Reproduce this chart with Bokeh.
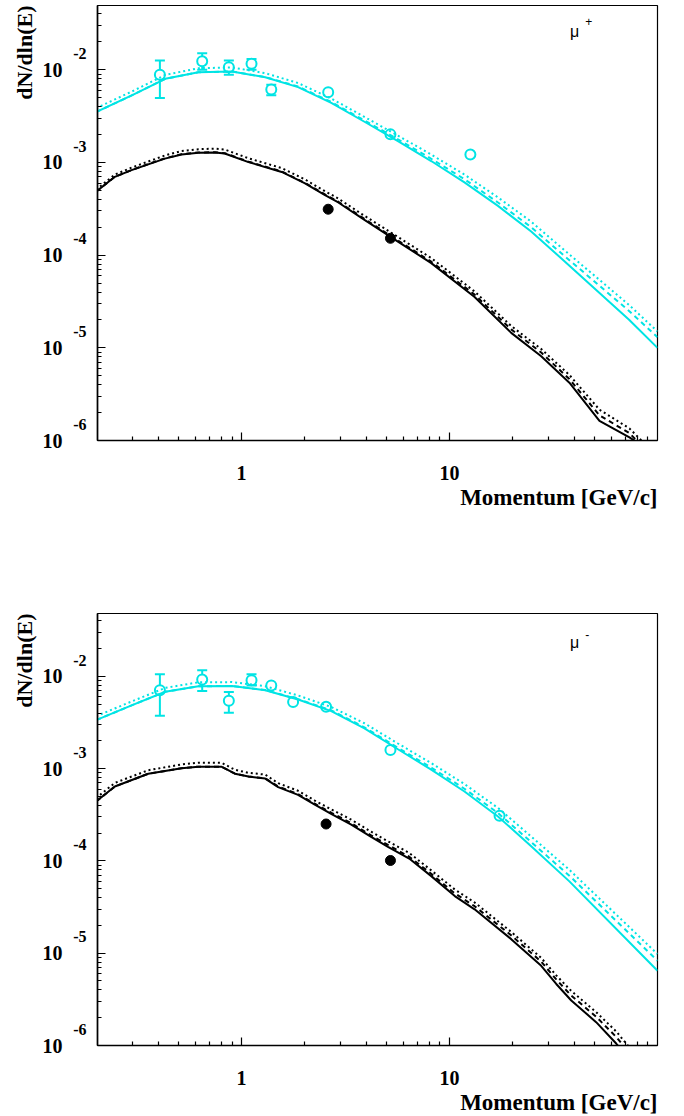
import math
from bokeh.plotting import figure
from bokeh.models import (ColumnDataSource, FixedTicker, CustomJSTickFormatter, LogAxis, LogScale,
                          Label, Whisker, TeeHead, Range1d, Title)
from bokeh.layouts import column
from bokeh.embed import file_html
from bokeh.resources import INLINE

CYAN = "#00e4e4"
SERIF = "Liberation Serif"
SANS = "Liberation Sans"

# ---------------- panel 1 : mu+ ----------------
mup_cyan_pts_x = [0.405, 0.647, 0.869, 1.117, 1.39, 2.61, 5.20, 12.6]
mup_cyan_pts_y = [8.84e-3, 1.236e-2, 1.066e-2, 1.16e-2, 6.14e-3, 5.74e-3, 2.01e-3, 1.22e-3]
mup_cyan_pts_lo = [4.96e-3, 1.0e-2, 8.84e-3, 1.0e-2, 5.3e-3, None, None, None]
mup_cyan_pts_hi = [1.26e-2, 1.51e-2, 1.26e-2, 1.31e-2, 6.9e-3, None, None, None]
mup_black_pts_x = [2.61, 5.20]
mup_black_pts_y = [3.13e-4, 1.52e-4]

mup_cyan_x = [0.2, 0.3, 0.43, 0.62, 0.9, 1.3, 1.87, 2.7, 3.9, 5.65, 8.2, 11.8, 17.1, 24.7, 35.7, 73, 100]
mup_cyan_solid = [3.5e-3, 5.35e-3, 8.0e-3, 9.4e-3, 9.6e-3, 8.3e-3, 6.5e-3, 4.4e-3, 2.75e-3, 1.70e-3,
                  1.03e-3, 6.1e-4, 3.4e-4, 1.8e-4, 8.6e-5, 2.01e-5, 1.0e-5]
mup_cyan_dashed = [3.5e-3, 5.35e-3, 8.0e-3, 9.4e-3, 9.6e-3, 8.35e-3, 6.6e-3, 4.5e-3, 2.84e-3, 1.78e-3,
                   1.09e-3, 6.6e-4, 3.7e-4, 2.0e-4, 9.8e-5, 2.5e-5, 1.3e-5]
mup_cyan_dotted = [3.85e-3, 5.9e-3, 8.8e-3, 1.04e-2, 1.06e-2, 9.2e-3, 7.2e-3, 4.9e-3, 3.1e-3, 1.95e-3,
                   1.21e-3, 7.4e-4, 4.2e-4, 2.3e-4, 1.13e-4, 2.9e-5, 1.5e-5]

mup_black_x = [0.2, 0.246, 0.296, 0.428, 0.515, 0.62, 0.745, 0.83, 1.08, 1.56, 2.02, 2.52, 2.92,
               3.9, 5.65, 8.17, 13.2, 19.8, 27.6, 37.7, 52.6, 73.3, 90]
mup_black_solid = [4.85e-4, 7.0e-4, 8.26e-4, 1.10e-3, 1.22e-3, 1.27e-3, 1.28e-3, 1.25e-3, 1.01e-3,
                   7.9e-4, 5.94e-4, 4.45e-4, 3.7e-4, 2.40e-4, 1.40e-4, 8.2e-5, 3.53e-5, 1.45e-5,
                   8.1e-6, 4.2e-6, 1.63e-6, 1.08e-6, 8.0e-7]
mup_black_dashed = [4.85e-4, 7.0e-4, 8.3e-4, 1.11e-3, 1.23e-3, 1.28e-3, 1.29e-3, 1.26e-3, 1.02e-3,
                    8.0e-4, 6.0e-4, 4.52e-4, 3.77e-4, 2.46e-4, 1.44e-4, 8.5e-5, 3.75e-5, 1.58e-5,
                    8.9e-6, 4.6e-6, 1.87e-6, 1.2e-6, 7.5e-7]
mup_black_dotted = [5.1e-4, 7.4e-4, 8.8e-4, 1.19e-3, 1.33e-3, 1.39e-3, 1.41e-3, 1.38e-3, 1.11e-3,
                    8.7e-4, 6.55e-4, 4.9e-4, 4.08e-4, 2.66e-4, 1.57e-4, 9.3e-5, 4.06e-5, 1.72e-5,
                    9.7e-6, 5.1e-6, 2.15e-6, 1.35e-6, 8.5e-7]

# ---------------- panel 2 : mu- ----------------
mum_cyan_pts_x = [0.405, 0.647, 0.869, 1.117, 1.39, 1.77, 2.55, 5.20, 17.4]
mum_cyan_pts_y = [7.06e-3, 9.21e-3, 5.42e-3, 9.06e-3, 7.94e-3, 5.28e-3, 4.67e-3, 1.59e-3, 3.09e-4]
mum_cyan_pts_lo = [3.73e-3, 6.94e-3, 4.02e-3, 7.94e-3, None, None, None, None, None]
mum_cyan_pts_hi = [1.05e-2, 1.16e-2, 6.77e-3, 1.05e-2, None, None, None, None, None]
mum_black_pts_x = [2.55, 5.20]
mum_black_pts_y = [2.51e-4, 1.01e-4]

mum_cyan_x = [0.2, 0.3, 0.43, 0.62, 0.9, 1.3, 1.87, 2.7, 3.9, 5.65, 8.2, 11.8, 17.1, 24.7, 37.7, 100]
mum_cyan_solid = [3.35e-3, 4.9e-3, 6.8e-3, 7.8e-3, 7.86e-3, 7.06e-3, 5.6e-3, 4.2e-3, 2.73e-3, 1.62e-3,
                  9.7e-4, 5.65e-4, 3.03e-4, 1.44e-4, 6.0e-5, 6.46e-6]
mum_cyan_dashed = [3.35e-3, 4.9e-3, 6.8e-3, 7.8e-3, 7.86e-3, 7.1e-3, 5.65e-3, 4.28e-3, 2.8e-3, 1.68e-3,
                   1.02e-3, 6.05e-4, 3.3e-4, 1.6e-4, 6.9e-5, 8.3e-6]
mum_cyan_dotted = [3.7e-3, 5.4e-3, 7.5e-3, 8.6e-3, 8.65e-3, 7.8e-3, 6.2e-3, 4.65e-3, 3.1e-3, 1.87e-3,
                   1.14e-3, 6.8e-4, 3.75e-4, 1.84e-4, 8.0e-5, 9.8e-6]

mum_black_x = [0.2, 0.246, 0.356, 0.515, 0.62, 0.8, 0.93, 1.08, 1.3, 1.5, 1.87, 2.25, 2.71, 3.37,
               4.2, 5.06, 6.4, 8.17, 10.6, 13.2, 19.8, 27.6, 32.6, 38.5, 50.7, 63.3, 80]
mum_black_solid = [4.4e-4, 6.4e-4, 8.8e-4, 1.01e-3, 1.05e-3, 1.05e-3, 8.8e-4, 8.2e-4, 7.8e-4, 6.3e-4,
                   5.2e-4, 4.06e-4, 3.22e-4, 2.47e-4, 1.82e-4, 1.42e-4, 1.06e-4, 6.84e-5, 4.16e-5,
                   2.99e-5, 1.42e-5, 7.3e-6, 4.64e-6, 3.07e-6, 1.79e-6, 1.05e-6, 5.5e-7]
mum_black_dashed = [4.4e-4, 6.4e-4, 8.8e-4, 1.01e-3, 1.05e-3, 1.05e-3, 8.8e-4, 8.2e-4, 7.85e-4, 6.4e-4,
                    5.3e-4, 4.16e-4, 3.32e-4, 2.56e-4, 1.89e-4, 1.49e-4, 1.11e-4, 7.25e-5, 4.45e-5,
                    3.23e-5, 1.56e-5, 8.1e-6, 5.2e-6, 3.47e-6, 2.05e-6, 1.24e-6, 6.5e-7]
mum_black_dotted = [4.8e-4, 7.0e-4, 9.6e-4, 1.11e-3, 1.16e-3, 1.16e-3, 9.7e-4, 9.0e-4, 8.6e-4, 6.95e-4,
                    5.75e-4, 4.5e-4, 3.6e-4, 2.8e-4, 2.07e-4, 1.63e-4, 1.22e-4, 7.9e-5, 4.9e-5,
                    3.55e-5, 1.7e-5, 8.9e-6, 5.75e-6, 3.9e-6, 2.3e-6, 1.42e-6, 7.5e-7]

# axis ticks / labels
x_major = [1, 10]
x_minor = [0.3, 0.4, 0.5, 0.6, 0.7, 0.8, 0.9, 2, 3, 4, 5, 6, 7, 8, 9,
           20, 30, 40, 50, 60, 70, 80, 90]
y_major = [1e-6, 1e-5, 1e-4, 1e-3, 1e-2]
y_minor = [m * 10.0 ** k for k in range(-6, -1) for m in range(2, 10)]
x_title = "Momentum [GeV/c]"
y_title = "dN/dln(E)"

X_START, X_END = 0.203, 100.0
EXP_SHIFT = 1.5          # raises the exponent labels by ~16 px (log shift of the helper range)


def style_labels(ax, size):
    ax.major_label_text_font = SERIF
    ax.major_label_text_font_style = "bold"
    ax.major_label_text_font_size = size
    ax.major_label_text_color = "black"


def make_panel(height, border_top, border_bottom, y_top, particle, sign, sign_dy, mu_dy,
               cyan_x, cyan_solid, cyan_dashed, cyan_dotted,
               black_x, black_solid, black_dashed, black_dotted,
               pts_x, pts_y, pts_lo, pts_hi, bpts_x, bpts_y):
    p = figure(width=680, height=height, x_axis_type="log", y_axis_type="log",
               x_range=Range1d(X_START, X_END), y_range=Range1d(1e-6, y_top),
               output_backend="svg", toolbar_location=None,
               min_border_left=97, min_border_right=23,
               min_border_top=border_top, min_border_bottom=border_bottom)
    p.xgrid.visible = False
    p.ygrid.visible = False
    p.outline_line_color = "black"
    p.outline_line_width = 1.2
    p.background_fill_color = "white"
    p.border_fill_color = "white"

    for ax in (p.xaxis[0], p.yaxis[0]):
        ax.axis_line_color = "black"
        ax.axis_line_width = 1.6
        ax.major_tick_in = 8
        ax.major_tick_out = 0
        ax.minor_tick_in = 4
        ax.minor_tick_out = 0
        ax.major_tick_line_width = 1.2
        ax.minor_tick_line_width = 1.2
        style_labels(ax, "20px")
    p.xaxis.ticker = FixedTicker(ticks=x_major, minor_ticks=x_minor)
    p.yaxis.ticker = FixedTicker(ticks=y_major, minor_ticks=y_minor)
    p.xaxis.formatter = CustomJSTickFormatter(code="return String(Math.round(tick));")
    p.xaxis.major_label_standoff = 25

    # inner y axis: ticks only
    p.yaxis.formatter = CustomJSTickFormatter(code="return '';")
    p.yaxis.major_label_standoff = 0

    # exponent axis on a helper range shifted upward
    p.extra_y_ranges = {"exp": Range1d(1e-6 / EXP_SHIFT, y_top / EXP_SHIFT)}
    p.extra_y_scales = {"exp": LogScale()}
    exp_ax = LogAxis(y_range_name="exp", ticker=FixedTicker(ticks=y_major, minor_ticks=[]),
                     formatter=CustomJSTickFormatter(code="return '-' + Math.round(-Math.log10(tick));"),
                     axis_line_color=None, major_tick_line_color=None, minor_tick_line_color=None,
                     major_label_standoff=5)
    style_labels(exp_ax, "16px")
    p.add_layout(exp_ax, "left")

    # mantissa axis "10"
    ten_ax = LogAxis(ticker=FixedTicker(ticks=y_major, minor_ticks=[]),
                     formatter=CustomJSTickFormatter(code="return '10';"),
                     axis_line_color=None, major_tick_line_color=None, minor_tick_line_color=None,
                     major_label_standoff=2)
    style_labels(ten_ax, "20px")
    p.add_layout(ten_ax, "left")

    # axis titles, aligned at the end of the axes
    p.add_layout(Title(text=x_title, align="right", text_font=SERIF, text_font_style="bold",
                       text_font_size="23px", text_color="black", standoff=0), "below")
    p.add_layout(Title(text=y_title, align="right", text_font=SERIF, text_font_style="bold",
                       text_font_size="22px", text_color="black", standoff=6), "left")

    # particle label
    p.add_layout(Label(x=38.0, y=y_top, y_offset=mu_dy, text=particle, text_align="left",
                       text_baseline="alphabetic", text_font=SANS, text_font_size="16px",
                       text_color="black"))
    p.add_layout(Label(x=45.0, y=y_top, y_offset=sign_dy, text=sign, text_align="left",
                       text_baseline="alphabetic", text_font=SANS, text_font_size="12px",
                       text_color="black"))

    # error bars
    ex = [x for x, lo in zip(pts_x, pts_lo) if lo is not None]
    elo = [lo for lo in pts_lo if lo is not None]
    ehi = [hi for hi in pts_hi if hi is not None]
    esrc = ColumnDataSource(dict(x=ex, lo=elo, hi=ehi))
    p.add_layout(Whisker(base="x", lower="lo", upper="hi", source=esrc, dimension="height",
                         line_color=CYAN, line_width=2,
                         upper_head=TeeHead(size=10, line_color=CYAN, line_width=2),
                         lower_head=TeeHead(size=10, line_color=CYAN, line_width=2)))
    # open circles
    p.scatter(pts_x, pts_y, marker="circle", size=10, fill_color="white",
              line_color=CYAN, line_width=2)

    # model curves
    p.line(cyan_x, cyan_solid, line_color=CYAN, line_width=2)
    p.line(cyan_x, cyan_dashed, line_color=CYAN, line_width=2, line_dash="5 4")
    p.line(cyan_x, cyan_dotted, line_color=CYAN, line_width=2, line_dash="2 3")
    p.line(black_x, black_solid, line_color="black", line_width=2)
    p.line(black_x, black_dashed, line_color="black", line_width=2, line_dash="5 4")
    p.line(black_x, black_dotted, line_color="black", line_width=2, line_dash="2 3")

    p.scatter(bpts_x, bpts_y, marker="circle", size=10, fill_color="black", line_color="black")
    return p


p1 = make_panel(574, 5, 134, 0.0494, "\u03bc", "+", -16, -26,
                mup_cyan_x, mup_cyan_solid, mup_cyan_dashed, mup_cyan_dotted,
                mup_black_x, mup_black_solid, mup_black_dashed, mup_black_dotted,
                mup_cyan_pts_x, mup_cyan_pts_y, mup_cyan_pts_lo, mup_cyan_pts_hi,
                mup_black_pts_x, mup_black_pts_y)
p2 = make_panel(541, 39, 70, 0.0479, "\u03bc", "-", -21, -29,
                mum_cyan_x, mum_cyan_solid, mum_cyan_dashed, mum_cyan_dotted,
                mum_black_x, mum_black_solid, mum_black_dashed, mum_black_dotted,
                mum_cyan_pts_x, mum_cyan_pts_y, mum_cyan_pts_lo, mum_cyan_pts_hi,
                mum_black_pts_x, mum_black_pts_y)

layout = column(p1, p2)
open("out.html", "w").write(file_html(layout, INLINE))
